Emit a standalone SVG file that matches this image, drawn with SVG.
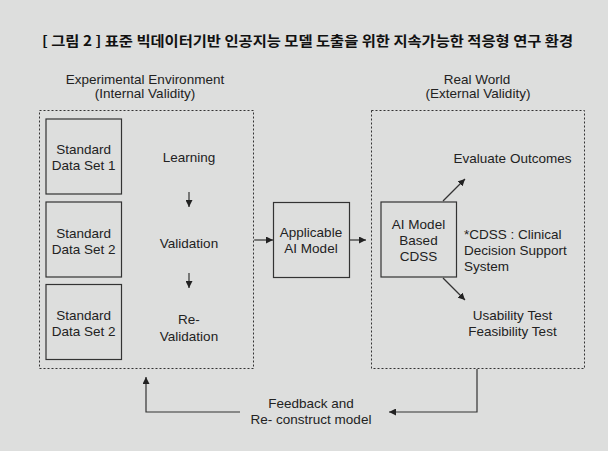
<svg xmlns="http://www.w3.org/2000/svg" width="608" height="451" viewBox="0 0 608 451">
  <defs>
    <marker id="head" viewBox="0 0 10 10" refX="10" refY="5" markerWidth="7" markerHeight="7" markerUnits="userSpaceOnUse" orient="auto">
      <path d="M0,0 L10,5 L0,10 Z" fill="#222"/>
    </marker>
    <style>
      .bg { fill: #dddedd; }
      .t { font-family: "Liberation Sans", Arial, sans-serif; font-size: 13.5px; fill: #222; text-anchor: middle; }
      .tl { text-anchor: start; }
      .title { font-family: "Noto Sans CJK KR", "Noto Sans", sans-serif; font-size: 14px; font-weight: bold; fill: #111; }
      .box { fill: none; stroke: #333; stroke-width: 1.2; }
      .frame { fill: none; stroke: #333; stroke-width: 1; stroke-dasharray: 2 2; }
      .edge { fill: none; stroke: #333; stroke-width: 1.2; marker-end: url(#head); }
    </style>
  </defs>

  <rect class="bg" x="0" y="0" width="608" height="451"/>

  <text class="title" x="42" y="45.5" textLength="531" lengthAdjust="spacingAndGlyphs">[ 그림 2 ] 표준 빅데이터기반 인공지능 모델 도출을 위한 지속가능한 적응형 연구 환경</text>

  <!-- experimental environment -->
  <g id="experimental">
    <text class="t" x="145" y="83.5">Experimental Environment</text>
    <text class="t" x="145" y="98">(Internal Validity)</text>
    <rect class="frame" x="39.5" y="110.5" width="214" height="258"/>
  </g>

  <g id="dataset1">
    <rect class="box" x="46" y="119" width="75.5" height="75"/>
    <text class="t" x="83.7" y="154">Standard</text>
    <text class="t" x="83.7" y="170">Data Set 1</text>
  </g>
  <g id="dataset2">
    <rect class="box" x="46" y="202" width="75.5" height="75"/>
    <text class="t" x="83.7" y="238">Standard</text>
    <text class="t" x="83.7" y="254">Data Set 2</text>
  </g>
  <g id="dataset3">
    <rect class="box" x="46" y="284.5" width="75.5" height="75"/>
    <text class="t" x="83.7" y="320">Standard</text>
    <text class="t" x="83.7" y="336">Data Set 2</text>
  </g>

  <g id="learning"><text class="t" x="189" y="162">Learning</text></g>
  <g id="validation"><text class="t" x="189" y="248">Validation</text></g>
  <g id="revalidation">
    <text class="t" x="189" y="324">Re-</text>
    <text class="t" x="189" y="341">Validation</text>
  </g>

  <g id="applicable">
    <rect class="box" x="273.5" y="202.5" width="76" height="75"/>
    <text class="t" x="311" y="237">Applicable</text>
    <text class="t" x="311" y="253">AI Model</text>
  </g>

  <!-- real world -->
  <g id="realworld">
    <text class="t" x="477" y="83.5">Real World</text>
    <text class="t" x="478" y="98">(External Validity)</text>
    <rect class="frame" x="371.5" y="110.5" width="213" height="258"/>
  </g>

  <g id="cdss">
    <rect class="box" x="381" y="202" width="75.5" height="75"/>
    <text class="t" x="418.5" y="229">AI Model</text>
    <text class="t" x="418.5" y="245">Based</text>
    <text class="t" x="418.5" y="261">CDSS</text>
  </g>

  <g id="cdss-note">
    <text class="t tl" x="464" y="239">*CDSS : Clinical</text>
    <text class="t tl" x="464" y="255">Decision Support</text>
    <text class="t tl" x="464" y="271">System</text>
  </g>

  <g id="outcomes"><text class="t" x="512.5" y="163">Evaluate Outcomes</text></g>
  <g id="tests">
    <text class="t" x="512.5" y="320">Usability Test</text>
    <text class="t" x="512.5" y="336">Feasibility Test</text>
  </g>

  <g id="feedback">
    <text class="t" x="311" y="408">Feedback and</text>
    <text class="t" x="311" y="424">Re- construct model</text>
  </g>

  <g id="connectors">
    <line class="edge" x1="189" y1="192" x2="189" y2="207"/>
    <line class="edge" x1="189" y1="273" x2="189" y2="288"/>
    <line class="edge" x1="254" y1="240" x2="273" y2="240"/>
    <line class="edge" x1="350" y1="240" x2="366" y2="240"/>
    <line class="edge" x1="443" y1="201" x2="465" y2="179"/>
    <line class="edge" x1="443" y1="278" x2="465" y2="300"/>
    <polyline class="edge" points="477,369 477,412 389,412"/>
    <polyline class="edge" points="240,412 146,412 146,377"/>
  </g>
</svg>
